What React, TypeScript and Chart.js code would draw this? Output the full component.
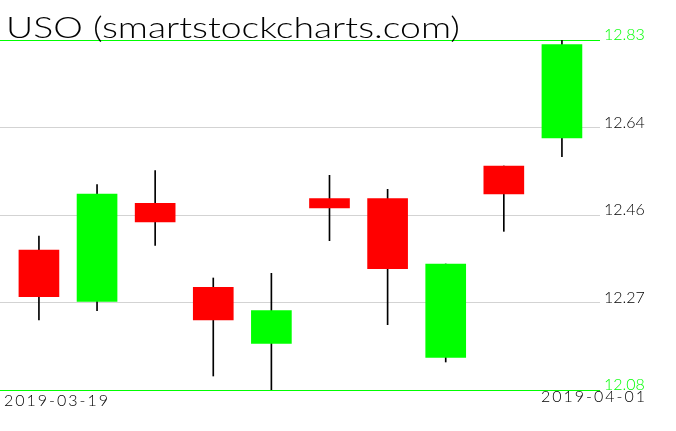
import React, { useEffect, useRef } from "react";
import { Chart, registerables } from "chart.js";

Chart.register(...registerables);

const TITLE = "USO (smartstockcharts.com)";
const dates = [
  "2019-03-19", "2019-03-20", "2019-03-21", "2019-03-22", "2019-03-25",
  "2019-03-26", "2019-03-27", "2019-03-28", "2019-03-29", "2019-04-01",
];
const openVals = [12.38, 12.27, 12.48, 12.30, 12.18, 12.49, 12.49, 12.15, 12.56, 12.62];
const closeVals = [12.28, 12.50, 12.44, 12.23, 12.25, 12.47, 12.34, 12.35, 12.50, 12.82];
const highVals = [12.41, 12.52, 12.55, 12.32, 12.33, 12.54, 12.51, 12.35, 12.56, 12.83];
const lowVals = [12.23, 12.25, 12.39, 12.11, 12.08, 12.40, 12.22, 12.14, 12.42, 12.58];
const yMin = 12.08;
const yMax = 12.83;
const yTickValues = [12.08, 12.2675, 12.455, 12.6425, 12.83];
const yTickLabels = ["12.08", "12.27", "12.46", "12.64", "12.83"];

const UP = "#00ff00";
const DOWN = "#ff0000";

const textPlugin = {
  id: "texts",
  afterDraw(chart: any) {
    const ctx = chart.ctx as CanvasRenderingContext2D;
    ctx.save();
    ctx.fillStyle = "#000";
    ctx.textBaseline = "alphabetic";
    ctx.font = "300 30px Lato";
    const w = ctx.measureText(TITLE).width;
    ctx.translate(6, 38);
    ctx.scale(454 / w, 1);
    ctx.textAlign = "left";
    ctx.fillText(TITLE, 0, 0);
    ctx.restore();

    ctx.save();
    ctx.fillStyle = "#000";
    ctx.font = "300 16px Lato";
    (ctx as any).letterSpacing = "2px";
    ctx.textBaseline = "alphabetic";
    ctx.textAlign = "left";
    ctx.fillText(dates[0], 4, 406);
    ctx.textAlign = "right";
    ctx.fillText(dates[dates.length - 1], 647, 402);
    ctx.restore();
  },
};

export default function App() {
  const ref = useRef<HTMLCanvasElement>(null);
  useEffect(() => {
    if (!ref.current) return;
    const bodyColors = openVals.map((o, i) => (closeVals[i] >= o ? UP : DOWN));
    const chart = new Chart(ref.current, {
      type: "bar",
      data: {
        datasets: [
          {
            label: "body",
            data: openVals.map((o, i) => ({ x: i, y: [o, closeVals[i]] })) as any,
            backgroundColor: bodyColors,
            borderWidth: 0,
            barThickness: 40,
            grouped: false,
            order: 1,
          } as any,
          {
            label: "wick",
            data: lowVals.map((l, i) => ({ x: i, y: [l, highVals[i]] })) as any,
            backgroundColor: "#000",
            borderWidth: 0,
            barThickness: 1,
            grouped: false,
            order: 2,
          } as any,
        ],
      },
      options: {
        animation: false,
        responsive: false,
        layout: { padding: { top: 40, bottom: 41, left: 0, right: 0 } },
        plugins: { legend: { display: false }, tooltip: { enabled: false }, title: { display: false } },
        scales: {
          x: {
            type: "linear",
            min: -0.67,
            max: 9.655,
            offset: false,
            display: false,
          },
          y: {
            type: "linear",
            position: "right",
            min: yMin,
            max: yMax,
            afterBuildTicks: (scale: any) => {
              scale.ticks = yTickValues.map((v) => ({ value: v }));
            },
            afterFit: (scale: any) => {
              scale.width = 76;
            },
            border: { display: false },
            grid: {
              drawTicks: false,
              lineWidth: 1,
              color: (c: any) =>
                c.index === 0 || c.index === yTickValues.length - 1 ? UP : "#d3d3d3",
            },
            ticks: {
              padding: 4,
              labelOffset: -5,
              font: { family: "Lato", size: 16, weight: "300" as any },
              color: (c: any) =>
                c.index === 0 || c.index === yTickValues.length - 1 ? UP : "#000",
              callback: (_v: any, i: number) => yTickLabels[i],
            },
          },
        },
      },
      plugins: [textPlugin],
    });
    return () => chart.destroy();
  }, []);
  return (
    <div style={{ position: "absolute", left: 0, top: 0, width: 676, height: 431 }}>
      <canvas ref={ref} width={676} height={431} style={{ display: "block" }} />
    </div>
  );
}
